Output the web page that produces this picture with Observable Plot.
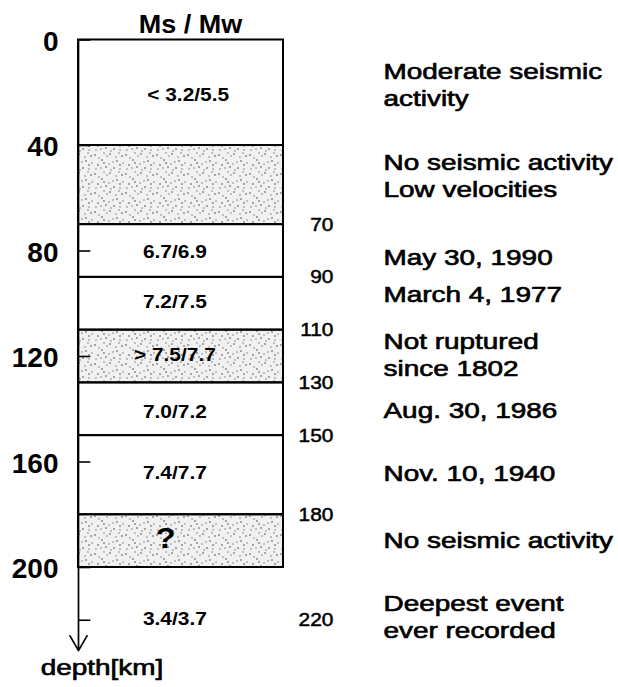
<!DOCTYPE html>
<html>
<head>
<meta charset="utf-8">
<script src="https://cdn.jsdelivr.net/npm/d3@7"></script>
<script src="https://cdn.jsdelivr.net/npm/@observablehq/plot@0.6"></script>
<style>
  html, body { margin: 0; padding: 0; background: #fff; }
  #chart { width: 618px; height: 687px; }
</style>
</head>
<body>
<div id="chart"></div>
<script>
// ---- data ----
const layerTop    = [0, 40, 70, 90, 110, 130, 150, 180];
const layerBottom = [40, 70, 90, 110, 130, 150, 180, 200];
const layerShaded = [false, true, false, false, true, false, false, true];

const magnitudes     = ["< 3.2/5.5", "6.7/6.9", "7.2/7.5", "> 7.5/7.7", "7.0/7.2", "7.4/7.7", "3.4/3.7"];
const magnitudeDepth = [20.7, 80.5, 99.4, 119.3, 141.1, 164.3, 219.4];
const unknownLabel = ["?"];
const unknownDepth = [189];

const depthTicks     = [0, 40, 80, 120, 160, 200];
const tickMarks      = [0, 40, 80, 120, 160, 200, 220];
const boundaryLabels = [70, 90, 110, 130, 150, 180, 220];

const descriptions = [
  "Moderate seismic\nactivity",
  "No seismic activity\nLow velocities",
  "May 30, 1990",
  "March 4, 1977",
  "Not ruptured\nsince 1802",
  "Aug. 30, 1986",
  "Nov. 10, 1940",
  "No seismic activity",
  "Deepest event\never recorded"
];
const descriptionDepth = [16.7, 51.1, 82.1, 96.1, 118.9, 140.1, 164, 189.4, 218.4];

const titleText = ["Ms / Mw"];
const axisLabel = ["depth[km]"];
const axisEnd = 231.5;

// ---- chart ----
const FONT = "'Liberation Sans', Arial, Helvetica, sans-serif";
const layers = layerTop.map((t, i) => ({top: t, bottom: layerBottom[i], shaded: layerShaded[i]}));

const svg = Plot.plot({
  width: 618,
  height: 687,
  marginLeft: 78,
  marginRight: 335,
  marginTop: 39.5,
  marginBottom: 14.5,
  x: {domain: [0, 1], axis: null},
  y: {domain: [0, 240], reverse: true, axis: null},
  style: {fontFamily: FONT, background: "white", color: "black"},
  marks: [
    Plot.rect(layers, {filter: d => !d.shaded, x1: 0, x2: 1, y1: "top", y2: "bottom", fill: "white"}),
    Plot.rect(layers, {filter: d => d.shaded, x1: 0, x2: 1, y1: "top", y2: "bottom", fill: "url(#stipple)"}),
    Plot.rect(layers, {x1: 0, x2: 1, y1: "top", y2: "bottom", fill: "none", stroke: "black", strokeWidth: 2}),
    Plot.arrow([axisEnd], {x1: 0, x2: 0, y1: 0, y2: d => d, stroke: "black", strokeWidth: 1.7, headLength: 15, headAngle: 60}),
    Plot.ruleY(tickMarks, {y: d => d, x1: 0, x2: 0.06, stroke: "black", strokeWidth: 1.6}),
    Plot.text(depthTicks, {ariaDescription: "lefttick", y: d => d, x: 0, dx: -20, dy: 2, text: d => String(d),
      textAnchor: "end", fontSize: 28, fontWeight: "bold", fontFamily: FONT, fill: "black"}),
    Plot.text(titleText, {ariaDescription: "title", frameAnchor: "top", lineAnchor: "middle", dx: 9.5, dy: -15.5, text: d => d,
      fontSize: 25, fontWeight: "bold", fontFamily: FONT, fill: "black"}),
    Plot.text(magnitudes, {ariaDescription: "mag", y: (d, i) => magnitudeDepth[i], x: (d, i) => i === 0 ? 0.535 : 0.47,
      text: d => d, fontSize: 19, fontWeight: "bold", fontFamily: FONT, fill: "black"}),
    Plot.text(unknownLabel, {ariaDescription: "mag", y: (d, i) => unknownDepth[i], x: 0.425, text: d => d,
      fontSize: 30, fontWeight: "bold", fontFamily: FONT, fill: "black"}),
    Plot.text(boundaryLabels, {ariaDescription: "num", y: d => d, x: 1, dx: 50, text: d => String(d),
      textAnchor: "end", fontSize: 19, fontFamily: FONT, fill: "black", stroke: "black", strokeWidth: 0.5}),
    Plot.text(descriptions, {ariaDescription: "desc", y: (d, i) => descriptionDepth[i], x: 1, dx: 100, text: d => d,
      textAnchor: "start", lineHeight: 1.24, fontSize: 22, fontFamily: FONT, fill: "black", stroke: "black", strokeWidth: 0.65}),
    Plot.text(axisLabel, {ariaDescription: "desc", frameAnchor: "bottom-left", lineAnchor: "middle", dx: 23.5, dy: -5.5, text: d => d,
      textAnchor: "middle", fontSize: 22, fontFamily: FONT, fill: "black", stroke: "black", strokeWidth: 0.65})
  ]
});

// stipple pattern for the shaded layers
const defs = d3.select(svg).insert("defs", ":first-child");
const pat = defs.append("pattern")
  .attr("id", "stipple")
  .attr("patternUnits", "userSpaceOnUse")
  .attr("width", 31).attr("height", 19);
pat.append("rect").attr("width", 31).attr("height", 19).attr("fill", "#f1f1f1");
const lightDots = [[6,6],[14,4],[20,10],[26,1],[3,17],[16,12],[23,5],[8,16],[30,11],[18,18],[11,1],[27,17]];
const darkDots  = [[2,3],[9,8],[17,2],[24,9],[29,4],[5,13],[13,15],[21,16],[27,13],[11,11]];
lightDots.forEach(([cx, cy]) => pat.append("circle").attr("cx", cx).attr("cy", cy).attr("r", 0.9).attr("fill", "#a8a8a8"));
darkDots.forEach(([cx, cy]) => pat.append("circle").attr("cx", cx).attr("cy", cy).attr("r", 0.75).attr("fill", "#333"));

// the reference lettering is horizontally wide: stretch text around its anchor
const stretch = {desc: 1.27, num: 1.1, mag: 1.1, title: 1.08};
Object.entries(stretch).forEach(([key, s]) => {
  svg.querySelectorAll(`g[aria-description="${key}"] text`).forEach(t => {
    const tr = t.getAttribute("transform") || "";
    t.setAttribute("transform", `${tr} scale(${s},1)`);
  });
});

document.getElementById("chart").appendChild(svg);
</script>
</body>
</html>
